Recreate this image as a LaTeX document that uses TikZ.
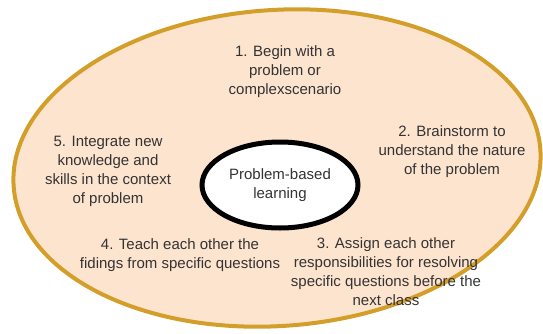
\documentclass[tikz,border=0pt]{standalone}
\usepackage{fontspec}
\setmainfont{Liberation Sans}
\usetikzlibrary{shapes.geometric}
\definecolor{peach}{HTML}{FDE4CF}
\definecolor{gold}{HTML}{D39E2A}
\definecolor{ink}{HTML}{333333}
\tikzset{
  phase/.style={align=center,text=ink,font=\fontsize{15}{19}\selectfont,inner sep=0pt},
  core/.style={ellipse,draw=black,line width=5pt,fill=white,minimum width=156pt,minimum height=86pt,
    inner sep=0pt,align=center,text=ink,font=\fontsize{15}{19}\selectfont}
}
\begin{document}
\begin{tikzpicture}[x=1pt,y=1pt]
  \useasboundingbox (0,0) rectangle (543,333);
  \draw[gold,line width=4pt,fill=peach] (277,165) ellipse [x radius=264, y radius=158, rotate=4];
  \node[core] (pbl) at (280,148) {Problem-based\\learning};
  \node[phase] (1) at (285,261) {1. Begin with a\\problem or\\complexscenario};
  \node[phase] (2) at (452,181) {2. Brainstorm to\\understand the nature\\of the problem};
  \node[phase] (3) at (386,61) {3. Assign each other\\responsibilities for resolving\\specific questions before the\\next class};
  \node[phase] (4) at (180,78) {4. Teach each other the\\fidings from specific questions};
  \node[phase] (5) at (108,162) {5. Integrate new\\knowledge and\\skills in the context\\of problem};
\end{tikzpicture}
\end{document}
